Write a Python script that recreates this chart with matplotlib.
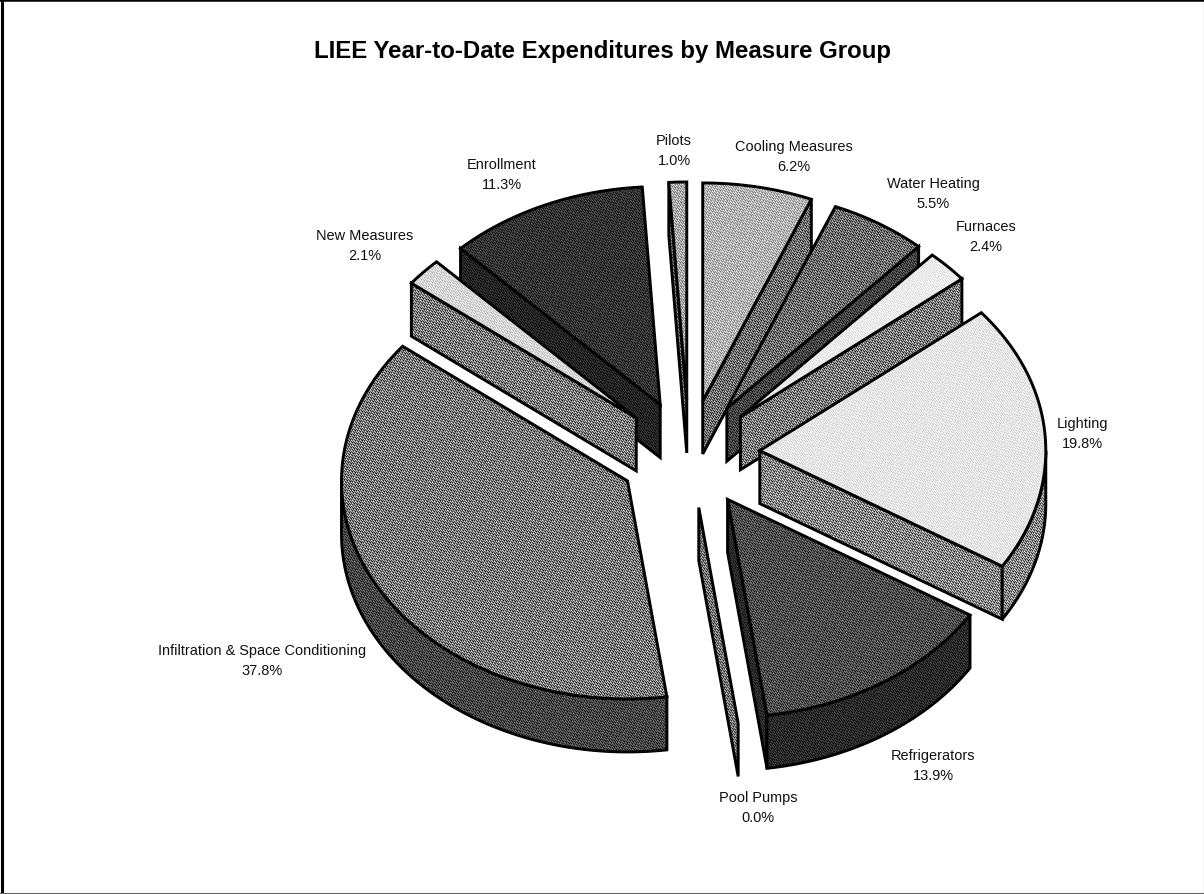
import numpy as np
import matplotlib
matplotlib.use('Agg')
import matplotlib.pyplot as plt
from matplotlib.patches import Polygon

plt.rcParams['font.family'] = ['Liberation Sans', 'DejaVu Sans']

# clockwise from 12 o'clock
groups = ['Cooling Measures', 'Water Heating', 'Furnaces', 'Lighting', 'Refrigerators',
          'Pool Pumps', 'Infiltration & Space Conditioning', 'New Measures', 'Enrollment', 'Pilots']
shares = [6.2, 5.5, 2.4, 19.8, 13.9, 0.0, 37.8, 2.1, 11.3, 1.0]

# grey levels of the top face and of the walls
top_grey = [0.70, 0.42, 0.92, 0.90, 0.30, 0.45, 0.47, 0.84, 0.20, 0.66]
wall_grey = [0.43, 0.26, 0.48, 0.52, 0.16, 0.45, 0.27, 0.48, 0.14, 0.42]

# label centres in pixels
label_xy = [(794, 157), (933, 194), (986, 237), (1082, 434), (933, 766),
            (758, 808), (262, 661), (365, 246), (502, 175), (674, 151)]

W, H = 1204, 895
CX, CY = 689, 455
RX, RY = 286, 218
DEPTH = 53
EXPLODE = 0.248
LW = 2.1

fig = plt.figure(figsize=(W / 100, H / 100), dpi=100)
ax = fig.add_axes([0, 0, 1, 1])
ax.set_xlim(0, W)
ax.set_ylim(H, 0)
ax.axis('off')

# halftone grain (interleaved gradient noise)
yy, xx = np.mgrid[0:H, 0:W]
grain = (52.9829189 * ((0.06711056 * xx + 0.00583715 * yy) % 1)) % 1 - 0.5


def face(pts, grey):
    poly = Polygon(pts, closed=True, facecolor='none', edgecolor='black', lw=LW,
                   joinstyle='miter', zorder=order + 0.5)
    ax.add_patch(poly)
    amp = 1.5 * min(grey, 1 - grey)
    im = ax.imshow(grey + grain * amp, cmap='gray', vmin=0, vmax=1,
                   extent=(0, W, H, 0), interpolation='nearest', aspect='auto', zorder=order)
    im.set_clip_path(poly)


def rim(t, tx, ty):
    return np.column_stack([tx + RX * np.sin(t), ty - RY * np.cos(t)])


edges = np.radians(np.concatenate([[0], np.cumsum(shares)]) * 3.6)
mids = (edges[:-1] + edges[1:]) / 2
down = np.array([0, DEPTH])
order = 2

# back slices first
for i in np.argsort(-np.cos(mids)):
    t0, t1 = edges[i], edges[i + 1]
    tx = CX + EXPLODE * RX * np.sin(mids[i])
    ty = CY - EXPLODE * RY * np.cos(mids[i])
    tip = np.array([tx, ty])

    # radial walls seen from the front
    if np.sin(t0) < 0:
        p = rim(t0, tx, ty)[0]
        face([tip, p, p + down, tip + down], wall_grey[i])
        order += 1
    if np.sin(t1) > 0:
        p = rim(t1, tx, ty)[0]
        face([tip, p, p + down, tip + down], wall_grey[i])
        order += 1

    # outer wall, only the part facing the viewer
    a, b = max(t0, np.pi / 2), min(t1, 3 * np.pi / 2)
    if b > a:
        arc = rim(np.linspace(a, b, 80), tx, ty)
        face(np.vstack([arc, arc[::-1] + down]), wall_grey[i])
        order += 1

    arc = rim(np.linspace(t0, t1, 80), tx, ty)
    if t1 > t0:
        face(np.vstack([tip, arc]), top_grey[i])
        order += 1

ax.text(603, 51, 'LIEE Year-to-Date Expenditures by Measure Group', ha='center', va='center',
        fontsize=17.3, fontweight='bold', color='black', zorder=90)

for name, val, (x, y) in zip(groups, shares, label_xy):
    ax.text(x, y, f'{name}\n{val:.1f}%', ha='center', va='center', fontsize=10.45,
            linespacing=1.55, color='#111111', zorder=90)

# chart frame: heavy left and top, thin right and bottom
ax.plot([1.5, 1.5], [0, H], color='black', lw=2.2, zorder=95)
ax.plot([0, W], [1, 1], color='black', lw=1.8, zorder=95)
ax.plot([W - 0.5, W - 0.5], [0, H], color='#444444', lw=0.8, zorder=95)
ax.plot([0, W], [H - 1, H - 1], color='#666666', lw=0.8, zorder=95)

fig.savefig('out.png', dpi=100)
